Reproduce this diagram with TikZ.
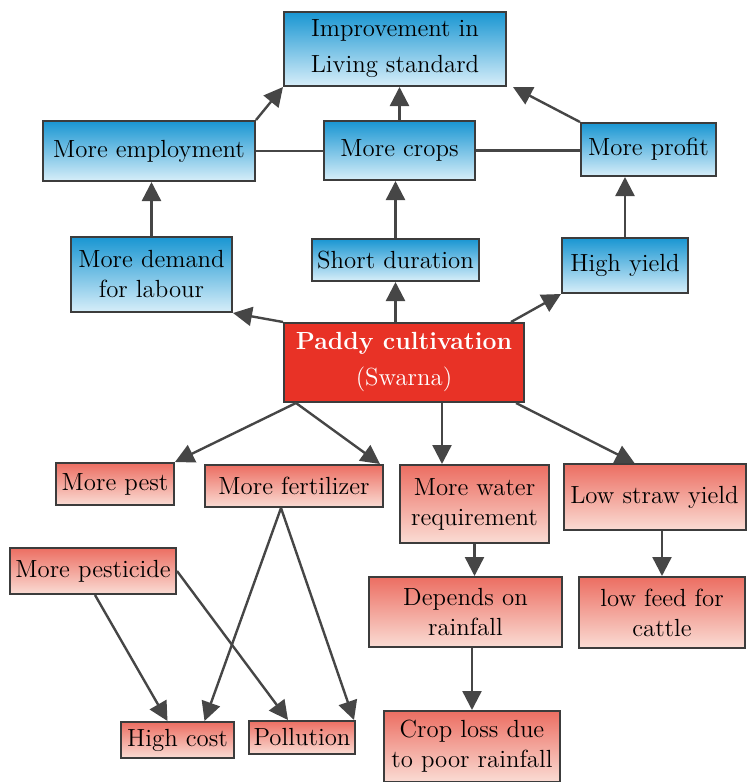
\documentclass[tikz,border=0pt]{standalone}
\usepackage{xcolor}
\usepackage{tikz}
\usetikzlibrary{arrows.meta, positioning, calc}
\definecolor{skyblue}{RGB}{25, 150, 210}
\definecolor{paleblue}{RGB}{215, 238, 249}
\definecolor{salmon}{RGB}{236, 110, 98}
\definecolor{palepink}{RGB}{250, 220, 212}
\definecolor{paddyred}{RGB}{232, 50, 38}
\definecolor{edgegray}{RGB}{60, 60, 60}
\definecolor{arrowgray}{RGB}{70, 70, 70}

\begin{document}
\begin{tikzpicture}[
    x=0.5pt, y=-0.5pt,
    font=\fontsize{12.4}{15}\selectfont,
    % Styles
    cbox/.style={draw=edgegray, line width=1pt, align=center, inner sep=1pt},
    bluebox/.style={cbox, top color=skyblue, bottom color=paleblue},
    pinkbox/.style={cbox, top color=salmon, bottom color=palepink},
    arrow/.style={-{Triangle[length=9.5pt, width=9.5pt]}, line width=1.2pt, arrowgray},
    link/.style={line width=1.2pt, arrowgray}
]
    \useasboundingbox (0,0) rectangle (746,782);

    % Benefits (top)
    \node (impr) [bluebox, minimum width=111pt, minimum height=37pt] at (395,49) {Improvement in\\[3pt]Living standard};
    \node (emp) [bluebox, minimum width=106pt, minimum height=30pt] at (149,151) {More employment};
    \node (crops) [bluebox, minimum width=75.5pt, minimum height=29.5pt] at (399.5,150.5) {More crops};
    \node (profit) [bluebox, minimum width=67.5pt, minimum height=26.5pt] at (648.5,149.5) {More profit};
    \node (labour) [bluebox, minimum width=80.5pt, minimum height=37.5pt] at (151.5,274.5) {More demand\\for labour};
    \node (short) [bluebox, minimum width=83.5pt, minimum height=21pt] at (395.5,260) {Short duration};
    \node (yield) [bluebox, minimum width=63pt, minimum height=27.5pt] at (625,265.5) {High yield};

    % Centre
    \node (paddy) [cbox, fill=paddyred, text=white, minimum width=120pt, minimum height=39.5pt] at (404,362.5) {\textbf{Paddy cultivation}\\[3pt](Swarna)};

    % Problems (bottom)
    \node (pest) [pinkbox, minimum width=59pt, minimum height=21pt] at (115,484) {More pest};
    \node (fert) [pinkbox, minimum width=89pt, minimum height=21pt] at (294,486) {More fertilizer};
    \node (water) [pinkbox, minimum width=74.5pt, minimum height=39pt] at (474.5,504) {More water\\requirement};
    \node (straw) [pinkbox, minimum width=91pt, minimum height=33pt] at (654.5,497) {Low straw yield};
    \node (pesticide) [pinkbox, minimum width=83pt, minimum height=23pt] at (93,571) {More pesticide};
    \node (depends) [pinkbox, minimum width=96.5pt, minimum height=35pt] at (465.5,612) {Depends on\\rainfall};
    \node (feed) [pinkbox, minimum width=83pt, minimum height=35.5pt] at (662,612.5) {low feed for\\cattle};
    \node (cost) [pinkbox, minimum width=56.5pt, minimum height=18pt] at (177.5,740) {High cost};
    \node (pollution) [pinkbox, minimum width=53pt, minimum height=16.5pt] at (302,737.5) {Pollution};
    \node (loss) [pinkbox, minimum width=88pt, minimum height=35.5pt] at (472,746.5) {Crop loss due\\to poor rainfall};

    \coordinate (wtop) at ($(water.north west)+(43,0)$);
    \coordinate (fbot) at ($(fert.south)+(-13,0)$);

    % Arrows (top)
    \draw [arrow] (emp.north east) -- (impr.south west);
    \draw [arrow] (crops.north) -- (crops.north |- impr.south);
    \draw [arrow] (profit.north west) -- ($(impr.south east)+(6,0)$);
    \draw [link] (emp.east) -- (emp.east -| crops.west);
    \draw [link] (crops.east) -- (crops.east -| profit.west);
    \draw [arrow] (labour.north) -- (labour.north |- emp.south);
    \draw [arrow] (short.north) -- (short.north |- crops.south);
    \draw [arrow] (yield.north) -- (yield.north |- profit.south);
    \draw [arrow] (short.south |- paddy.north) -- (short.south);
    \draw [arrow] (paddy.north west) -- (labour.south east);
    \draw [arrow] ($(paddy.north east)+(-14,0)$) -- (yield.south west);

    % Arrows (bottom)
    \draw [arrow] ($(paddy.south west)+(13,0)$) -- (pest.north east);
    \draw [arrow] ($(paddy.south west)+(13,0)$) -- ($(fert.north east)+(-4,0)$);
    \draw [arrow] (paddy.south -| wtop) -- (wtop);
    \draw [arrow] ($(paddy.south east)+(-9,0)$) -- ($(straw.north)+(-20,0)$);
    \draw [arrow] (water.south) -- (water.south |- depends.north);
    \draw [arrow] (feed.north |- straw.south) -- (feed.north);
    \draw [arrow] (loss.north |- depends.south) -- (loss.north);
    \draw [arrow] (fbot) -- ($(cost.north)+(27,0)$);
    \draw [arrow] (fbot) -- ($(pollution.north east)+(-2,0)$);
    \draw [arrow] ($(pesticide.south)+(2,0)$) -- ($(cost.north)+(-10,0)$);
    \draw [arrow] (pesticide.east) -- ($(pollution.north)+(-14,0)$);

\end{tikzpicture}
\end{document}
